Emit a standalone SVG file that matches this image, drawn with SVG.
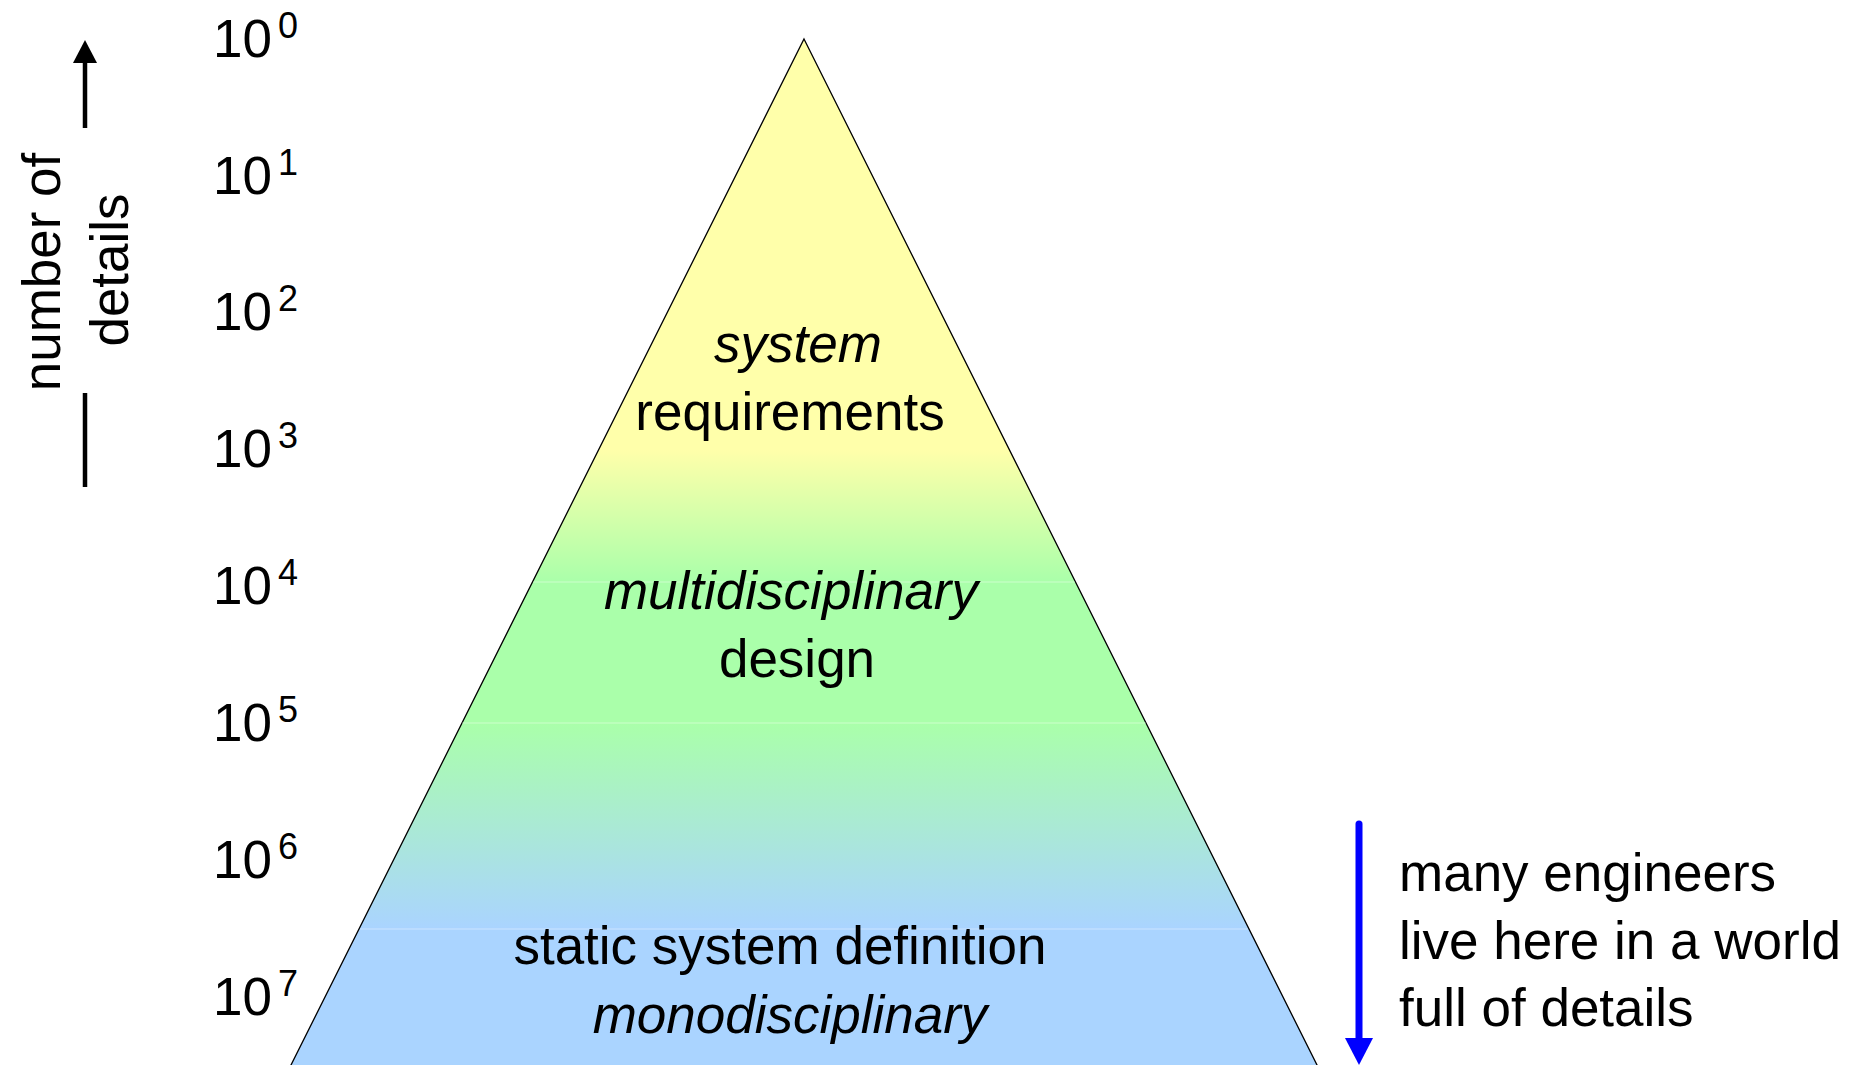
<svg xmlns="http://www.w3.org/2000/svg" width="1855" height="1065" viewBox="0 0 1855 1065">
  <style>
    text { font-family: "Liberation Sans", Arial, sans-serif; fill: #000; }
    .lbl { font-size: 53px; }
    .it { font-style: italic; }
    .mid { text-anchor: middle; }
    .tick { font-size: 53px; }
    .sup { font-size: 36px; }
    .seam { stroke: #ffffff; stroke-opacity: 0.4; stroke-width: 1; }
  </style>
  <defs>
    <linearGradient id="pyrGrad" gradientUnits="userSpaceOnUse" x1="0" y1="39" x2="0" y2="1065">
      <stop offset="0" stop-color="#ffffaa"/>
      <stop offset="0.4006" stop-color="#ffffaa"/>
      <stop offset="0.529" stop-color="#aaffaa"/>
      <stop offset="0.667" stop-color="#aaffaa"/>
      <stop offset="0.867" stop-color="#aad4ff"/>
      <stop offset="1" stop-color="#aad4ff"/>
    </linearGradient>
    <marker id="headBlack" markerUnits="userSpaceOnUse" markerWidth="24" markerHeight="24" viewBox="0 0 24 24" refX="0" refY="12" orient="auto">
      <path d="M0,0 L23,12 L0,24 z" fill="#000"/>
    </marker>
    <marker id="headBlue" markerUnits="userSpaceOnUse" markerWidth="28" markerHeight="28" viewBox="0 0 28 28" refX="1" refY="14" orient="auto">
      <path d="M0,0 L27,14 L0,28 z" fill="#0000ff"/>
    </marker>
  </defs>

  <g id="pyramid">
    <polygon points="804,39 1332,1095 276,1095" fill="url(#pyrGrad)" stroke="#000" stroke-width="1.3" stroke-linejoin="miter"/>
    <line class="seam" x1="533" y1="582" x2="1075" y2="582"/>
    <line class="seam" x1="462" y1="723" x2="1146" y2="723"/>
    <line class="seam" x1="360" y1="929" x2="1248" y2="929"/>
  </g>

  <g id="level-requirements">
    <text class="lbl it mid" x="798" y="362">system</text>
    <text class="lbl mid" x="790" y="430">requirements</text>
  </g>

  <g id="level-design">
    <text class="lbl it mid" x="791" y="609">multidisciplinary</text>
    <text class="lbl mid" x="797" y="677">design</text>
  </g>

  <g id="level-definition">
    <text class="lbl mid" x="780" y="964">static system definition</text>
    <text class="lbl it mid" x="790" y="1033">monodisciplinary</text>
  </g>

  <g id="axis-scale">
    <text class="tick" x="213" y="57">10<tspan class="sup" dx="6" dy="-19">0</tspan></text>
    <text class="tick" x="213" y="193.5">10<tspan class="sup" dx="6" dy="-19">1</tspan></text>
    <text class="tick" x="213" y="330">10<tspan class="sup" dx="6" dy="-19">2</tspan></text>
    <text class="tick" x="213" y="467">10<tspan class="sup" dx="6" dy="-19">3</tspan></text>
    <text class="tick" x="213" y="604">10<tspan class="sup" dx="6" dy="-19">4</tspan></text>
    <text class="tick" x="213" y="741">10<tspan class="sup" dx="6" dy="-19">5</tspan></text>
    <text class="tick" x="213" y="878">10<tspan class="sup" dx="6" dy="-19">6</tspan></text>
    <text class="tick" x="213" y="1015">10<tspan class="sup" dx="6" dy="-19">7</tspan></text>
  </g>

  <g id="axis-title">
    <text class="lbl mid" transform="translate(60,272) rotate(-90)">number of</text>
    <text class="lbl mid" transform="translate(128,270) rotate(-90)">details</text>
  </g>

  <g id="note-engineers">
    <text class="lbl" x="1399" y="891">many engineers</text>
    <text class="lbl" x="1399" y="958.5">live here in a world</text>
    <text class="lbl" x="1399" y="1026">full of details</text>
  </g>

  <g id="connectors">
    <line x1="85" y1="128" x2="85" y2="63" stroke="#000" stroke-width="4.5" marker-end="url(#headBlack)"/>
    <line x1="85" y1="393" x2="85" y2="487" stroke="#000" stroke-width="4.5"/>
    <line x1="1359" y1="824" x2="1359" y2="1039" stroke="#0000ff" stroke-width="7" stroke-linecap="round" marker-end="url(#headBlue)"/>
  </g>
</svg>
